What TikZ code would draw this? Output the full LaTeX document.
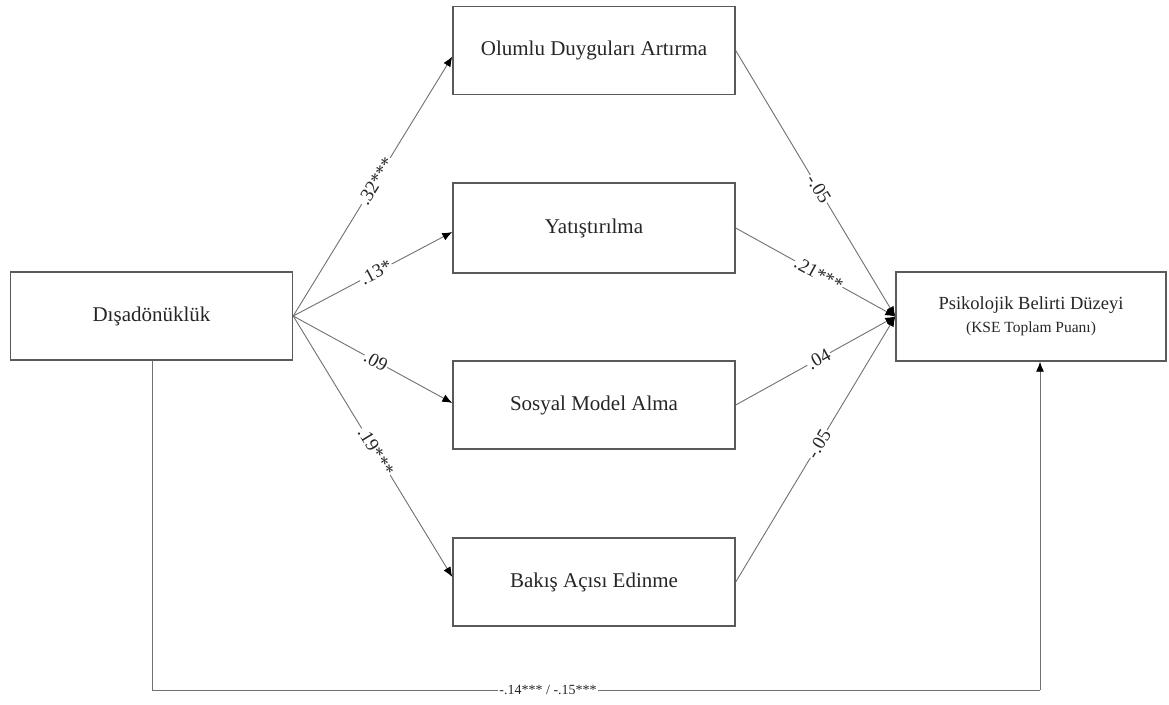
\documentclass[tikz,border=0pt]{standalone}
\usepackage{fontspec}
\setmainfont{Liberation Serif}
\usetikzlibrary{arrows.meta,calc}
\definecolor{boxline}{HTML}{5A5A5A}
\definecolor{conn}{HTML}{707070}
\begin{document}
\begin{tikzpicture}[x=1pt,y=-1pt,
  box/.style={draw=boxline,line width=1.4pt,fill=white,minimum width=282pt,minimum height=88pt,inner sep=0pt,
    font=\fontsize{21}{25}\selectfont,text=black!85},
  link/.style={draw=conn,line width=0.9pt},
  arr/.style={link,-{Latex[length=10pt,width=8pt,color=black]}},
  lab/.style={fill=white,inner sep=1pt,sloped,pos=0.52,font=\fontsize{19}{22}\selectfont,text=black!85}]
\useasboundingbox (0,0) rectangle (1169,704);
\node[box] (dis) at (151.5,316) {Dışadönüklük};
\node[box] (olum) at (594,50.5) {Olumlu Duyguları Artırma};
\node[box,minimum height=90pt] (yat) at (594,228) {Yatıştırılma};
\node[box] (sos) at (594,405) {Sosyal Model Alma};
\node[box] (bak) at (594,582) {Bakış Açısı Edinme};
\node[box,minimum width=270pt,minimum height=89pt,align=center] (psk) at (1031,316.5)
  {{\fontsize{18.5}{22}\selectfont Psikolojik Belirti Düzeyi}\\[-2pt]{\fontsize{15.5}{19}\selectfont (KSE Toplam Puanı)}};
% left paths
\draw[arr] (dis.east) -- node[lab] {.32***} ($(olum.west)+(0,6)$);
\draw[arr] (dis.east) -- node[lab] {.13*} ($(yat.west)+(0,4)$);
\draw[arr] (dis.east) -- node[lab] {.09} ($(sos.west)+(0,-2)$);
\draw[arr] (dis.east) -- node[lab] {.19***} ($(bak.west)+(0,-5)$);
% right paths
\draw[arr] (olum.east) -- node[lab] {-.05} (psk.west);
\draw[arr] (yat.east) -- node[lab] {.21***} (psk.west);
\draw[arr] (sos.east) -- node[lab] {.04} (psk.west);
\draw[arr] (bak.east) -- node[lab] {-.05} (psk.west);
% direct path
\coordinate (bl) at (152,690);
\coordinate (br) at (1040,690);
\draw[link] (dis.south -| bl) -- (bl) -- node[fill=white,inner sep=1pt,pos=0.446,font=\fontsize{14}{17}\selectfont,text=black!85] {-.14*** / -.15***} (br);
\draw[arr] (br) -- (br |- psk.south);
\end{tikzpicture}
\end{document}
